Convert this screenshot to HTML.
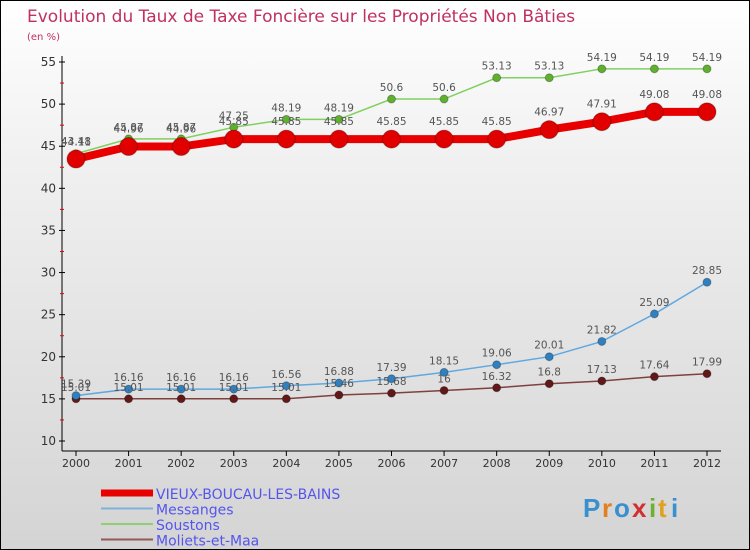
<!DOCTYPE html>
<html><head><meta charset="utf-8"><style>
body{margin:0;}
#c{width:748px;height:548px;border:1px solid #000;background:linear-gradient(#fff,#f0f0f0 30%,#d4d4d4);position:relative;font-family:"DejaVu Sans","Liberation Sans",sans-serif;overflow:hidden}
</style></head><body>
<div id="c">
<svg id="s" width="748" height="548">
<text x="26" y="21" font-size="17" fill="#c03060">Evolution du Taux de Taxe Foncière sur les Propriétés Non Bâties</text>
<text x="26" y="39" font-size="10" fill="#c03060">(en %)</text>
<g id="g"></g>
<g font-family="Liberation Sans" font-weight="bold" font-size="26">
<text x="582" y="516" fill="#3a8fd0">P</text><text x="601" y="516" fill="#e08020">r</text><text x="613" y="516" fill="#3a8fd0">o</text><text x="631" y="516" fill="#d03030">x</text><text x="648" y="516" fill="#70b030">i</text><text x="657" y="516" fill="#e0a020">t</text><text x="670" y="516" fill="#3a8fd0">i</text>
</g>
</svg></div>
<script>
const years=[2000,2001,2002,2003,2004,2005,2006,2007,2008,2009,2010,2011,2012];
const yTicks=[10,15,20,25,30,35,40,45,50,55];
const vieux=[43.48,44.96,44.96,45.85,45.85,45.85,45.85,45.85,45.85,46.97,47.91,49.08,49.08];
const messanges=[15.39,16.16,16.16,16.16,16.56,16.88,17.39,18.15,19.06,20.01,21.82,25.09,28.85];
const soustons=[44.11,45.87,45.87,47.25,48.19,48.19,50.6,50.6,53.13,53.13,54.19,54.19,54.19];
const moliets=[15.01,15.01,15.01,15.01,15.01,15.46,15.68,16,16.32,16.8,17.13,17.64,17.99];
const names=["VIEUX-BOUCAU-LES-BAINS","Messanges","Soustons","Moliets-et-Maa"];
const NS="http://www.w3.org/2000/svg",g=document.getElementById('g');
const X=i=>75+i*(706-75)/(years.length-1);
const Y=v=>440-(v-10)*(440-61)/45;
function el(t,a,p){const e=document.createElementNS(NS,t);for(const k in a)e.setAttribute(k,a[k]);(p||g).appendChild(e);return e;}
let ax=el('line',{x1:61,y1:55,x2:61,y2:450,stroke:'#000'});

let bx=el('line',{x1:61,y1:450,x2:720,y2:450,stroke:'#000'});

yTicks.forEach(v=>{el('line',{x1:58,x2:64,y1:Y(v),y2:Y(v),stroke:'#000'});
 if(v<55)el('line',{x1:59,x2:63,y1:Y(v+2.5),y2:Y(v+2.5),stroke:'#e00'});
 const t=el('text',{x:55,y:Y(v)+4,'font-size':12,'text-anchor':'end',fill:'#333'});t.textContent=v;
 });
years.forEach((y,i)=>{el('line',{x1:X(i),x2:X(i),y1:450,y2:455,stroke:'#000'});
 const t=el('text',{x:X(i),y:466,'font-size':11,'text-anchor':'middle',fill:'#333'});t.textContent=y;
 });
const series=[[soustons,'#80d060','#60b030',1.5,4],[moliets,'#804040','#601818',1.5,4],[messanges,'#60a8e0','#3080c0',1.5,4],[vieux,'#e80000','#e00000',8,9]];
const names2=["soustons","moliets","messanges","vieux"];
series.forEach(([d,c,mc,w,r],si)=>{
 const p=el('polyline',{points:d.map((v,i)=>X(i)+','+Y(v)).join(' '),fill:'none',stroke:c,'stroke-width':w});
 
 d.forEach((v,i)=>{const m=el('circle',{cx:X(i),cy:Y(v),r:r,fill:mc,stroke:'#0004'});
  });});
series.forEach(([d],si)=>{d.forEach((v,i)=>{const t=el('text',{x:X(i),y:Y(v)-(si==3?14:8),'font-size':10.5,'text-anchor':'middle',fill:'#555'});t.textContent=v;
 });});
const lg=[['#e80000',7],['#80b0d8',2],['#90d070',2],['#905858',2]];
lg.forEach(([c,w],i)=>{const yy=492+i*15.5;
 el('line',{x1:100,x2:152,y1:yy,y2:yy,stroke:c,'stroke-width':w});
 const t=el('text',{x:155,y:yy+6,'font-size':14,fill:'#5555ee'});t.textContent=names[i];
 });
</script></body></html>
